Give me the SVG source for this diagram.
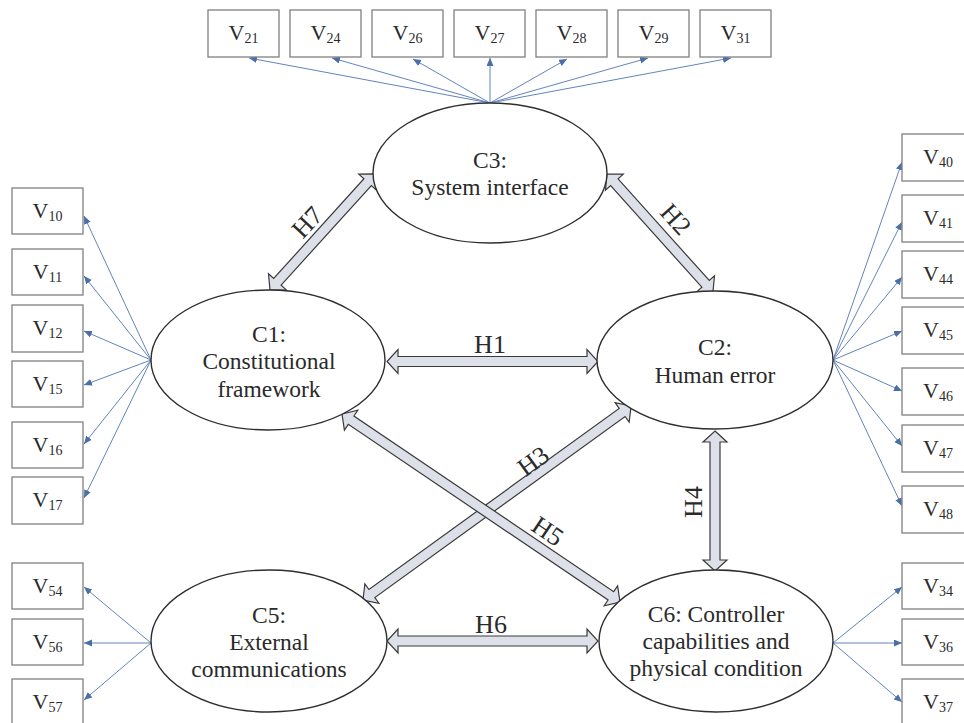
<svg xmlns="http://www.w3.org/2000/svg" width="964" height="723" viewBox="0 0 964 723">
<defs>
<style>
.box{fill:#fff;stroke:#808080;stroke-width:1.3}
.v{font-family:"Liberation Serif","Times New Roman",serif;font-size:22px;fill:#2a2a2a;text-anchor:middle}
.sub{font-size:14px}
.ell{fill:#fff;stroke:#2e2e2e;stroke-width:1.4}
.ct{font-family:"Liberation Serif","Times New Roman",serif;font-size:23.5px;fill:#2a2a2a;text-anchor:middle}
.thin{stroke:#6384bb;stroke-width:1;fill:none;marker-end:url(#ah)}
.blk{fill:#dde0e9;stroke:#3a3a3a;stroke-width:1.2;stroke-linejoin:miter}
.hl{font-family:"Liberation Serif","Times New Roman",serif;font-size:26px;fill:#2a2a2a;text-anchor:middle}
</style>
<marker id="ah" markerUnits="userSpaceOnUse" markerWidth="9" markerHeight="8" refX="8" refY="3.5" orient="auto">
<path d="M0,0 L8,3.5 L0,7 Z" fill="#4a6ea8"/>
</marker>
</defs>
<rect width="964" height="723" fill="#fff"/>

<g id="connectors">
<g id="loadings">
<line class="thin" x1="490" y1="103" x2="249" y2="58"/>
<line class="thin" x1="490" y1="103" x2="332" y2="58"/>
<line class="thin" x1="490" y1="103" x2="413" y2="59"/>
<line class="thin" x1="490" y1="103" x2="490" y2="58"/>
<line class="thin" x1="490" y1="103" x2="567" y2="59"/>
<line class="thin" x1="490" y1="103" x2="648" y2="58"/>
<line class="thin" x1="490" y1="103" x2="731" y2="58"/>

<line class="thin" x1="151" y1="360" x2="84" y2="216"/>
<line class="thin" x1="151" y1="360" x2="84" y2="276"/>
<line class="thin" x1="151" y1="360" x2="84" y2="331"/>
<line class="thin" x1="151" y1="360" x2="84" y2="385"/>
<line class="thin" x1="151" y1="360" x2="84" y2="444"/>
<line class="thin" x1="151" y1="360" x2="84" y2="498"/>

<line class="thin" x1="833" y1="360" x2="902" y2="162"/>
<line class="thin" x1="833" y1="360" x2="902" y2="222"/>
<line class="thin" x1="833" y1="360" x2="902" y2="277"/>
<line class="thin" x1="833" y1="360" x2="902" y2="331"/>
<line class="thin" x1="833" y1="360" x2="902" y2="391"/>
<line class="thin" x1="833" y1="360" x2="902" y2="446"/>
<line class="thin" x1="833" y1="360" x2="902" y2="506"/>

<line class="thin" x1="151" y1="643" x2="84" y2="587"/>
<line class="thin" x1="151" y1="643" x2="84" y2="643"/>
<line class="thin" x1="151" y1="643" x2="84" y2="700"/>

<line class="thin" x1="833" y1="643" x2="902" y2="587"/>
<line class="thin" x1="833" y1="643" x2="902" y2="643"/>
<line class="thin" x1="833" y1="643" x2="902" y2="702"/>
</g>
<g id="hypotheses">
<path class="blk" transform="translate(363,600) rotate(-35.9)" d="M0,0 L11,-12 L11,-5 L319.9,-5 L319.9,-12 L330.9,0 L319.9,12 L319.9,5 L11,5 L11,12 Z"/>
<path class="blk" transform="translate(342,414) rotate(34.07)" d="M0,0 L11,-12 L11,-5 L324.6,-5 L324.6,-12 L335.6,0 L324.6,12 L324.6,5 L11,5 L11,12 Z"/>
<path class="blk" transform="translate(387,361.5)" d="M0,0 L11,-12 L11,-5 L200,-5 L200,-12 L211,0 L200,12 L200,5 L11,5 L11,12 Z"/>
<path class="blk" transform="translate(387,641)" d="M0,0 L11,-12 L11,-5 L200,-5 L200,-12 L211,0 L200,12 L200,5 L11,5 L11,12 Z"/>
<path class="blk" transform="translate(715,431) rotate(90)" d="M0,0 L11,-12 L11,-5 L129,-5 L129,-12 L140,0 L129,12 L129,5 L11,5 L11,12 Z"/>
<path class="blk" transform="translate(270,290) rotate(-47.85)" d="M0,0 L11,-12 L11,-5 L145.5,-5 L145.5,-12 L156.5,0 L145.5,12 L145.5,5 L11,5 L11,12 Z"/>
<path class="blk" transform="translate(607,174) rotate(48.1)" d="M0,0 L11,-12 L11,-5 L147.6,-5 L147.6,-12 L158.6,0 L147.6,12 L147.6,5 L11,5 L11,12 Z"/>
<text class="hl" x="490" y="353">H1</text>
<text class="hl" x="491" y="633">H6</text>
<text class="hl" transform="translate(307,222) rotate(-47)" y="9">H7</text>
<text class="hl" transform="translate(676,219) rotate(48)" y="9">H2</text>
<text class="hl" transform="translate(533,461) rotate(-36)" y="9">H3</text>
<text class="hl" transform="translate(548,531) rotate(34)" y="9">H5</text>
<text class="hl" transform="translate(693,502) rotate(-90)" y="9">H4</text>
</g>
</g>

<g id="C3"><ellipse class="ell" cx="490" cy="173" rx="117" ry="70"/><text class="ct" x="490" y="168">C3:</text><text class="ct" x="490" y="195">System interface</text></g>
<g id="C1"><ellipse class="ell" cx="268" cy="360" rx="117" ry="70"/><text class="ct" x="269" y="342">C1:</text><text class="ct" x="269" y="369">Constitutional</text><text class="ct" x="269" y="397">framework</text></g>
<g id="C2"><ellipse class="ell" cx="715" cy="360" rx="118" ry="69"/><text class="ct" x="715" y="355">C2:</text><text class="ct" x="715" y="383">Human error</text></g>
<g id="C5"><ellipse class="ell" cx="269" cy="641" rx="118" ry="71"/><text class="ct" x="269" y="623">C5:</text><text class="ct" x="269" y="650">External</text><text class="ct" x="269" y="677">communications</text></g>
<g id="C6"><ellipse class="ell" cx="716" cy="641" rx="117" ry="71"/><text class="ct" x="716" y="622">C6: Controller</text><text class="ct" x="716" y="649">capabilities and</text><text class="ct" x="716" y="676">physical condition</text></g>

<g id="V21"><rect class="box" x="208" y="10" width="71" height="47"/><text class="v" x="243.5" y="40">V<tspan class="sub" dy="3">21</tspan></text></g>
<g id="V24"><rect class="box" x="290" y="10" width="71" height="47"/><text class="v" x="325.5" y="40">V<tspan class="sub" dy="3">24</tspan></text></g>
<g id="V26"><rect class="box" x="372" y="10" width="71" height="47"/><text class="v" x="407.5" y="40">V<tspan class="sub" dy="3">26</tspan></text></g>
<g id="V27"><rect class="box" x="454" y="10" width="71" height="47"/><text class="v" x="489.5" y="40">V<tspan class="sub" dy="3">27</tspan></text></g>
<g id="V28"><rect class="box" x="536" y="10" width="71" height="47"/><text class="v" x="571.5" y="40">V<tspan class="sub" dy="3">28</tspan></text></g>
<g id="V29"><rect class="box" x="618" y="10" width="71" height="47"/><text class="v" x="653.5" y="40">V<tspan class="sub" dy="3">29</tspan></text></g>
<g id="V31"><rect class="box" x="700" y="10" width="71" height="47"/><text class="v" x="735.5" y="40">V<tspan class="sub" dy="3">31</tspan></text></g>

<g id="V10"><rect class="box" x="12" y="188" width="71" height="46"/><text class="v" x="47.5" y="217.5">V<tspan class="sub" dy="3">10</tspan></text></g>
<g id="V11"><rect class="box" x="12" y="249" width="71" height="46"/><text class="v" x="47.5" y="278.5">V<tspan class="sub" dy="3">11</tspan></text></g>
<g id="V12"><rect class="box" x="12" y="305" width="71" height="47"/><text class="v" x="47.5" y="335">V<tspan class="sub" dy="3">12</tspan></text></g>
<g id="V15"><rect class="box" x="12" y="361" width="71" height="46"/><text class="v" x="47.5" y="390.5">V<tspan class="sub" dy="3">15</tspan></text></g>
<g id="V16"><rect class="box" x="12" y="422" width="71" height="46"/><text class="v" x="47.5" y="451.5">V<tspan class="sub" dy="3">16</tspan></text></g>
<g id="V17"><rect class="box" x="12" y="477" width="71" height="47"/><text class="v" x="47.5" y="507">V<tspan class="sub" dy="3">17</tspan></text></g>

<g id="V40"><rect class="box" x="902" y="134" width="72" height="47"/><text class="v" x="938" y="164">V<tspan class="sub" dy="3">40</tspan></text></g>
<g id="V41"><rect class="box" x="902" y="195" width="72" height="47"/><text class="v" x="938" y="225">V<tspan class="sub" dy="3">41</tspan></text></g>
<g id="V44"><rect class="box" x="902" y="251" width="72" height="47"/><text class="v" x="938" y="281">V<tspan class="sub" dy="3">44</tspan></text></g>
<g id="V45"><rect class="box" x="902" y="307" width="72" height="47"/><text class="v" x="938" y="337">V<tspan class="sub" dy="3">45</tspan></text></g>
<g id="V46"><rect class="box" x="902" y="368" width="72" height="47"/><text class="v" x="938" y="398">V<tspan class="sub" dy="3">46</tspan></text></g>
<g id="V47"><rect class="box" x="902" y="425" width="72" height="47"/><text class="v" x="938" y="455">V<tspan class="sub" dy="3">47</tspan></text></g>
<g id="V48"><rect class="box" x="902" y="486" width="72" height="47"/><text class="v" x="938" y="516">V<tspan class="sub" dy="3">48</tspan></text></g>

<g id="V54"><rect class="box" x="12" y="563" width="71" height="46"/><text class="v" x="47.5" y="592.5">V<tspan class="sub" dy="3">54</tspan></text></g>
<g id="V56"><rect class="box" x="12" y="619" width="71" height="46"/><text class="v" x="47.5" y="648.5">V<tspan class="sub" dy="3">56</tspan></text></g>
<g id="V57"><rect class="box" x="12" y="679" width="71" height="46"/><text class="v" x="47.5" y="708.5">V<tspan class="sub" dy="3">57</tspan></text></g>

<g id="V34"><rect class="box" x="902" y="563" width="72" height="46"/><text class="v" x="938" y="592.5">V<tspan class="sub" dy="3">34</tspan></text></g>
<g id="V36"><rect class="box" x="902" y="619" width="72" height="46"/><text class="v" x="938" y="648.5">V<tspan class="sub" dy="3">36</tspan></text></g>
<g id="V37"><rect class="box" x="902" y="679" width="72" height="46"/><text class="v" x="938" y="708.5">V<tspan class="sub" dy="3">37</tspan></text></g>
</svg>
